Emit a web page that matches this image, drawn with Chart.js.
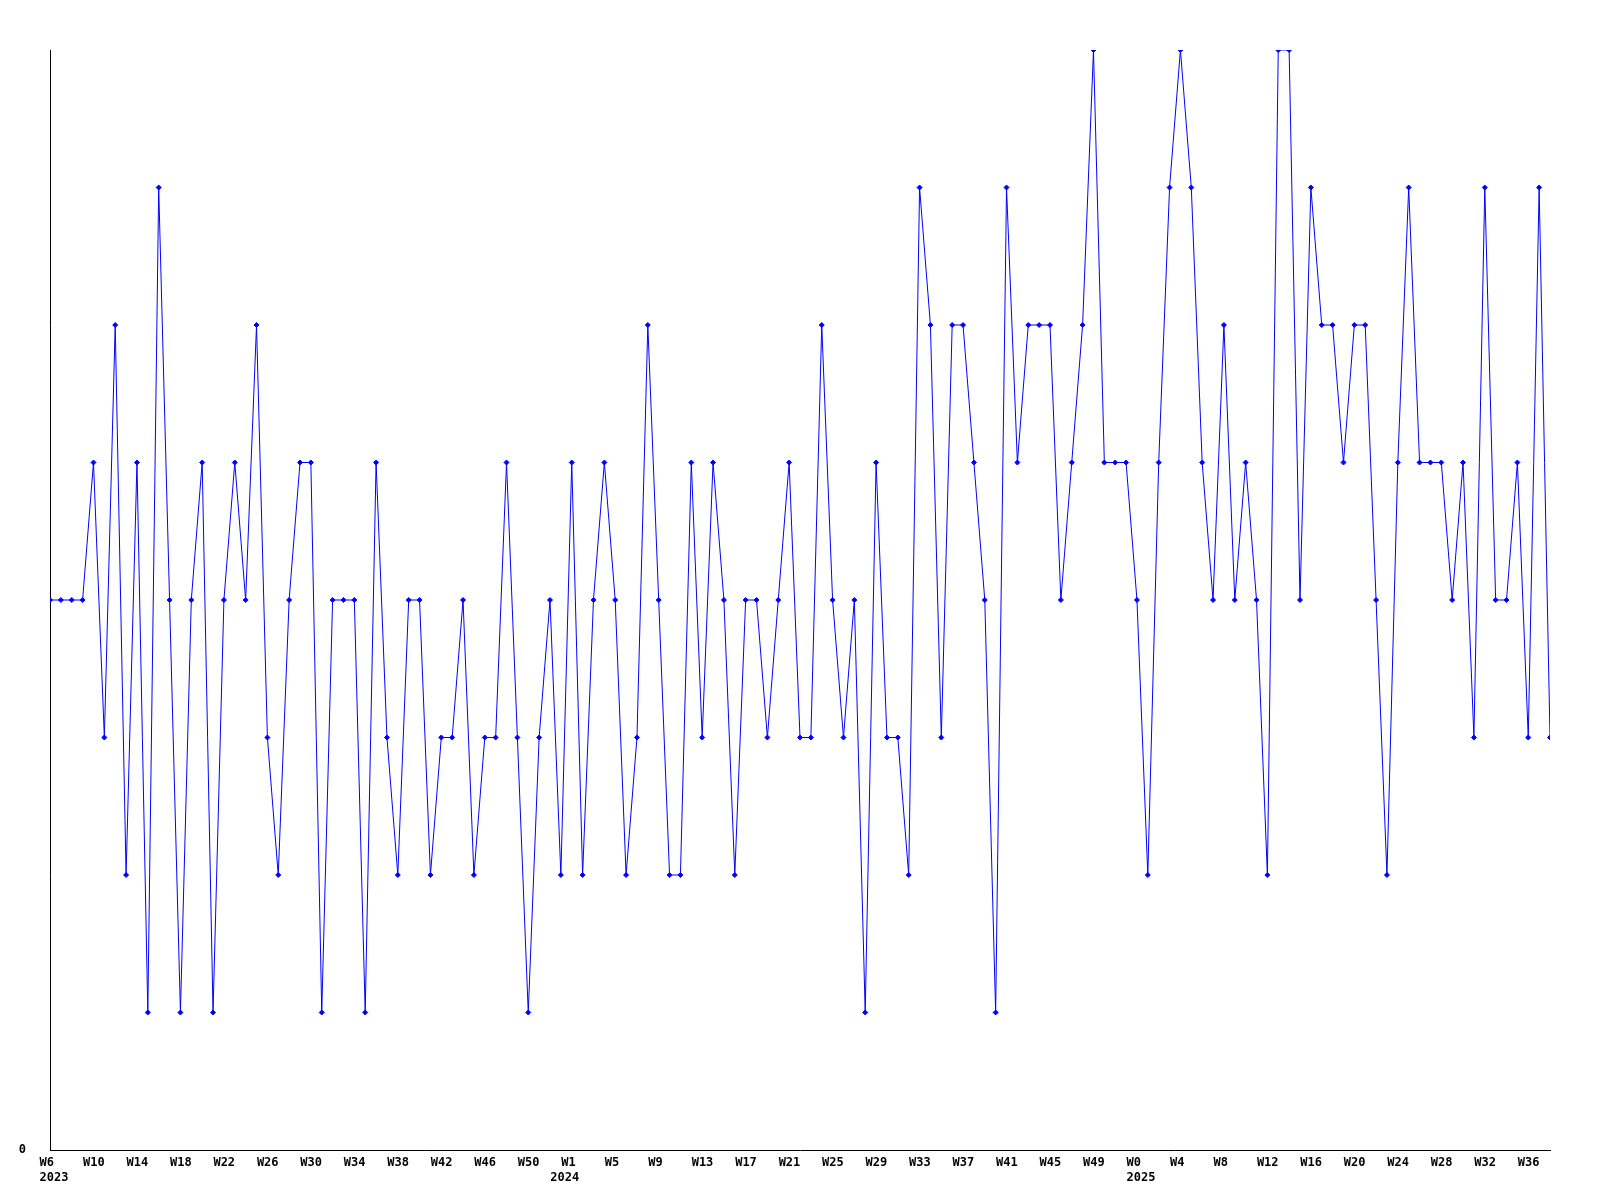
<!DOCTYPE html>
<html>
<head>
<meta charset="utf-8">
<script src="https://cdn.jsdelivr.net/npm/chart.js@4/dist/chart.umd.min.js"></script>
<style>
  html, body { margin: 0; padding: 0; background: #ffffff; }
  #wrap { width: 1600px; height: 1200px; }
</style>
</head>
<body>
<div id="wrap"><canvas id="c" width="1600" height="1200"></canvas></div>
<script>
// ---- data (one value per week, starting at W6 2023) ----
const values = [
  4,4,4,4,5,3,6,2,5,1,
  7,4,1,4,5,1,4,5,4,6,
  3,2,4,5,5,1,4,4,4,1,
  5,3,2,4,4,2,3,3,4,2,
  3,3,5,3,1,3,4,2,5,2,
  4,5,4,2,3,6,4,2,2,5,
  3,5,4,2,4,4,3,4,5,3,
  3,6,4,3,4,1,5,3,3,2,
  7,6,3,6,6,5,4,1,7,5,
  6,6,6,4,5,6,8,5,5,5,
  4,2,5,7,8,7,5,4,6,4,
  5,4,2,8,8,4,7,6,6,5,
  6,6,4,2,5,7,5,5,5,4,
  5,3,7,4,4,5,3,7,3
];

// week labels, shown every 4th week starting with the first point
const weekTickLabels = [
  'W6','W10','W14','W18','W22','W26','W30','W34','W38','W42','W46','W50',
  'W1','W5','W9','W13','W17','W21','W25','W29','W33','W37','W41','W45','W49',
  'W0','W4','W8','W12','W16','W20','W24','W28','W32','W36'
];
const weekTickEvery = 4;

// year labels and the week index where each year label appears
const yearLabels = ['2023', '2024', '2025'];
const yearWeekIndex = [0, 47, 100];

const yTickLabels = ['0'];

// ---- build chart ----
const points = values.map((v, i) => ({ x: i, y: v }));

function labelForIndex(i) {
  let week = '';
  if (i % weekTickEvery === 0) {
    const k = i / weekTickEvery;
    if (k < weekTickLabels.length) week = weekTickLabels[k];
  }
  const yi = yearWeekIndex.indexOf(i);
  const year = yi >= 0 ? yearLabels[yi] : '';
  if (year) return [week, year];
  return week;
}

const tickIndices = [];
for (let k = 0; k < weekTickLabels.length; k++) tickIndices.push(k * weekTickEvery);
yearWeekIndex.forEach(i => { if (!tickIndices.includes(i)) tickIndices.push(i); });
tickIndices.sort((a, b) => a - b);

const tickFont = { family: "'DejaVu Sans Mono', monospace", size: 12, weight: 'bold', lineHeight: 1.2 };

new Chart(document.getElementById('c'), {
  type: 'line',
  data: {
    datasets: [{
      data: points,
      borderColor: '#0000ff',
      backgroundColor: '#0000ff',
      borderWidth: 1,
      tension: 0,
      fill: false,
      pointStyle: 'rectRot',
      pointRadius: 2.5,
      pointBorderWidth: 1,
      pointBorderColor: '#0000ff',
      pointBackgroundColor: '#0000ff',
      clip: 0
    }]
  },
  options: {
    responsive: false,
    animation: false,
    devicePixelRatio: 1,
    layout: { padding: { left: 0, right: 50, top: 50, bottom: 0 } },
    plugins: { legend: { display: false }, tooltip: { enabled: false }, title: { display: false } },
    scales: {
      x: {
        type: 'linear',
        min: 0,
        max: values.length - 1,
        grid: { display: false, drawTicks: false },
        border: { display: true, color: '#000000', width: 1 },
        afterBuildTicks: (scale) => { scale.ticks = tickIndices.map(v => ({ value: v })); },
        afterFit: (scale) => { scale.height = 50; },
        ticks: {
          autoSkip: false,
          maxRotation: 0,
          minRotation: 0,
          align: 'start',
          labelOffset: -10.5,
          padding: 6,
          color: '#000000',
          font: tickFont,
          callback: (value) => labelForIndex(value)
        }
      },
      y: {
        type: 'linear',
        min: 0,
        max: 8,
        grid: { display: false, drawTicks: false },
        border: { display: true, color: '#000000', width: 1 },
        afterBuildTicks: (scale) => { scale.ticks = [{ value: 0 }]; },
        afterFit: (scale) => { scale.width = 50; },
        ticks: {
          padding: 24,
          color: '#000000',
          font: tickFont,
          callback: (value) => (value === 0 ? yTickLabels[0] : '')
        }
      }
    }
  }
});
</script>
</body>
</html>
